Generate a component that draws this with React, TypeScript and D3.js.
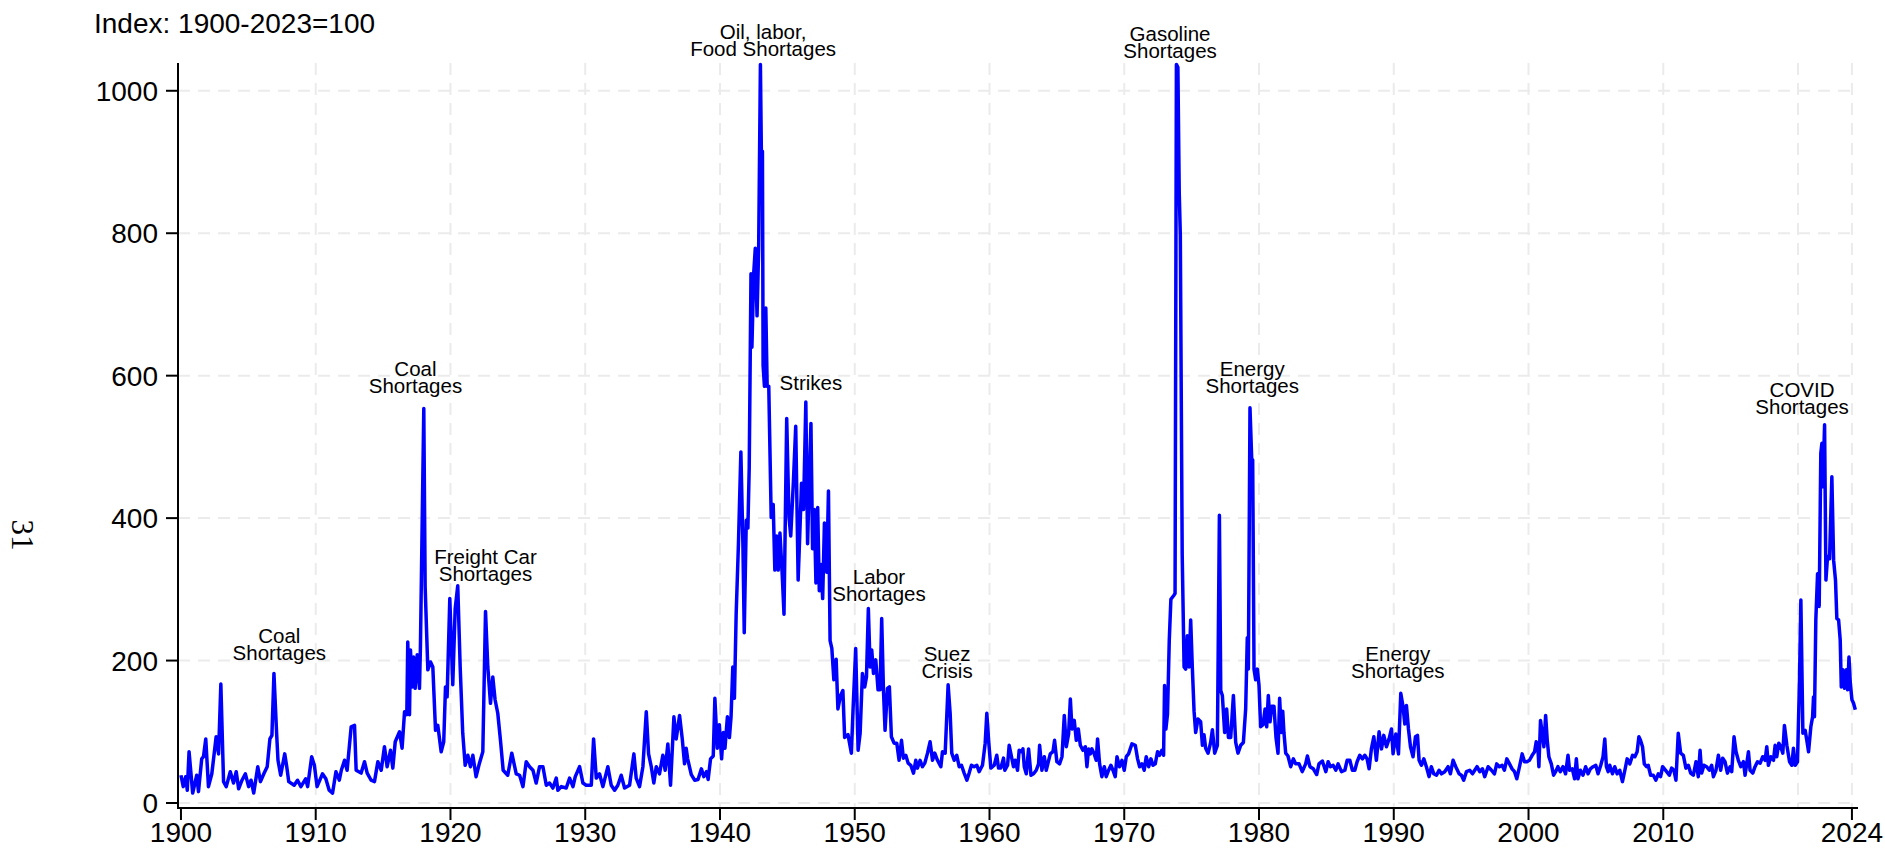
import React, { useRef, useEffect } from 'react';
import * as d3 from 'd3';

// [decimal year, index value], one array per decade
const s1900s: [number, number][] = [
  [1900.0, 39], [1900.17, 23], [1900.35, 37], [1900.47, 18], [1900.6, 72], [1900.87, 14],
  [1901.17, 39], [1901.3, 16], [1901.54, 62], [1901.67, 65], [1901.84, 90], [1902.04, 23],
  [1902.29, 41], [1902.61, 93], [1902.79, 69], [1902.96, 167], [1903.16, 30], [1903.36, 23],
  [1903.66, 44], [1903.9, 28], [1904.1, 44], [1904.28, 20], [1904.53, 32], [1904.78, 41],
  [1905.02, 23], [1905.2, 32], [1905.4, 14], [1905.7, 51], [1905.9, 30], [1906.15, 41],
  [1906.4, 51], [1906.6, 90], [1906.75, 95], [1906.9, 182], [1907.1, 97], [1907.2, 60],
  [1907.4, 39], [1907.7, 69], [1907.85, 51], [1908.0, 30], [1908.4, 25], [1908.65, 32],
  [1908.9, 23], [1909.25, 34], [1909.4, 23], [1909.7, 65], [1909.9, 53],
];
const s1910s: [number, number][] = [
  [1910.1, 23], [1910.5, 41], [1910.75, 34], [1911.0, 18], [1911.25, 14], [1911.5, 44],
  [1911.75, 32], [1911.9, 46], [1912.14, 60], [1912.33, 46], [1912.63, 107], [1912.88, 109],
  [1913.0, 46], [1913.37, 42], [1913.62, 58], [1913.82, 42], [1914.11, 32], [1914.36, 30],
  [1914.61, 58], [1914.86, 46], [1915.1, 79], [1915.3, 51], [1915.55, 74], [1915.72, 49],
  [1915.9, 86], [1916.22, 100], [1916.41, 77], [1916.59, 128], [1916.76, 124], [1916.83, 226],
  [1916.96, 124], [1917.03, 215], [1917.16, 163], [1917.26, 205], [1917.38, 161], [1917.53, 208],
  [1917.7, 161], [1917.77, 219], [1918.02, 554], [1918.12, 304], [1918.32, 187], [1918.52, 198],
  [1918.69, 191], [1918.89, 102], [1919.06, 109], [1919.31, 72], [1919.5, 86], [1919.63, 163],
  [1919.75, 149], [1919.95, 287],
];
const s1920s: [number, number][] = [
  [1920.17, 166], [1920.35, 273], [1920.54, 305], [1920.72, 191], [1920.91, 98], [1921.09, 53],
  [1921.29, 67], [1921.48, 51], [1921.66, 67], [1921.9, 37], [1922.15, 56], [1922.4, 72],
  [1922.6, 269], [1922.77, 191], [1922.97, 140], [1923.14, 177], [1923.31, 145], [1923.51, 126],
  [1923.71, 88], [1923.91, 46], [1924.25, 39], [1924.55, 70], [1924.88, 41], [1925.13, 39],
  [1925.38, 23], [1925.62, 58], [1925.87, 51], [1926.12, 46], [1926.36, 28], [1926.61, 51],
  [1926.86, 51], [1927.11, 25], [1927.35, 28], [1927.6, 21], [1927.85, 35], [1927.97, 18],
  [1928.22, 23], [1928.59, 21], [1928.84, 35], [1929.09, 23], [1929.26, 37], [1929.58, 51],
  [1929.83, 28],
];
const s1930s: [number, number][] = [
  [1930.07, 25], [1930.45, 25], [1930.62, 90], [1930.82, 35], [1931.06, 41], [1931.31, 23],
  [1931.68, 51], [1931.93, 25], [1932.18, 18], [1932.42, 25], [1932.67, 39], [1932.92, 21],
  [1933.29, 25], [1933.61, 69], [1933.78, 35], [1934.03, 23], [1934.28, 51], [1934.53, 128],
  [1934.7, 69], [1934.9, 51], [1935.09, 28], [1935.27, 51], [1935.51, 41], [1935.76, 67],
  [1935.93, 46], [1936.13, 83], [1936.33, 25], [1936.58, 121], [1936.75, 90], [1937.0, 123],
  [1937.2, 90], [1937.37, 55], [1937.49, 77], [1937.6, 62], [1937.87, 40], [1938.12, 32],
  [1938.37, 33], [1938.62, 48], [1938.8, 37], [1939.0, 44], [1939.12, 33], [1939.3, 62],
  [1939.5, 66], [1939.62, 147], [1939.8, 77], [1939.95, 110],
];
const s1940s: [number, number][] = [
  [1940.12, 62], [1940.25, 99], [1940.37, 77], [1940.55, 121], [1940.7, 92], [1940.82, 121],
  [1940.95, 191], [1941.07, 147], [1941.2, 265], [1941.37, 364], [1941.55, 493], [1941.7, 364],
  [1941.8, 239], [1941.95, 397], [1942.07, 386], [1942.17, 471], [1942.3, 743], [1942.37, 640],
  [1942.5, 743], [1942.62, 779], [1942.75, 684], [1942.87, 779], [1943.0, 1037], [1943.07, 915],
  [1943.15, 915], [1943.2, 614], [1943.3, 585], [1943.4, 695], [1943.5, 585], [1943.62, 585],
  [1943.8, 401], [1943.95, 419], [1944.07, 327], [1944.2, 375], [1944.32, 327], [1944.45, 379],
  [1944.62, 320], [1944.75, 265], [1944.95, 540], [1945.12, 401], [1945.25, 375], [1945.45, 452],
  [1945.62, 529], [1945.8, 313], [1945.95, 393], [1946.05, 449], [1946.2, 412], [1946.37, 563],
  [1946.5, 364], [1946.62, 449], [1946.75, 533], [1946.87, 357], [1947.0, 412], [1947.12, 309],
  [1947.25, 415], [1947.37, 298], [1947.5, 335], [1947.62, 287], [1947.75, 393], [1947.92, 324],
  [1948.05, 438], [1948.17, 228], [1948.3, 217], [1948.45, 173], [1948.62, 202], [1948.75, 132],
  [1948.95, 151], [1949.12, 158], [1949.25, 92], [1949.5, 96], [1949.75, 70], [1949.87, 129],
];
const s1950s: [number, number][] = [
  [1950.07, 217], [1950.25, 74], [1950.4, 98], [1950.57, 182], [1950.74, 163], [1950.87, 177],
  [1951.01, 273], [1951.14, 191], [1951.26, 215], [1951.39, 182], [1951.56, 201], [1951.73, 159],
  [1951.88, 159], [1952.0, 259], [1952.13, 159], [1952.25, 102], [1952.43, 161], [1952.57, 163],
  [1952.72, 93], [1952.92, 84], [1953.12, 84], [1953.29, 60], [1953.47, 88], [1953.61, 63],
  [1953.79, 67], [1953.96, 56], [1954.16, 53], [1954.36, 42], [1954.53, 60], [1954.65, 49],
  [1954.85, 60], [1955.02, 51], [1955.2, 56], [1955.4, 70], [1955.59, 86], [1955.77, 60],
  [1955.94, 70], [1956.14, 60], [1956.39, 51], [1956.51, 72], [1956.71, 70], [1956.93, 166],
  [1957.08, 126], [1957.2, 70], [1957.38, 60], [1957.57, 67], [1957.75, 51], [1957.92, 53],
  [1958.12, 42], [1958.32, 32], [1958.49, 42], [1958.66, 53], [1958.86, 51], [1959.06, 53],
  [1959.23, 44], [1959.48, 53], [1959.68, 84], [1959.8, 126], [1959.95, 84],
];
const s1960s: [number, number][] = [
  [1960.1, 49], [1960.35, 53], [1960.54, 67], [1960.67, 49], [1960.84, 49], [1961.04, 63],
  [1961.14, 46], [1961.34, 53], [1961.46, 81], [1961.63, 65], [1961.78, 51], [1961.91, 60],
  [1962.08, 46], [1962.2, 74], [1962.38, 72], [1962.48, 76], [1962.58, 51], [1962.73, 41],
  [1962.9, 76], [1963.08, 39], [1963.27, 41], [1963.47, 46], [1963.64, 55], [1963.72, 81],
  [1963.89, 46], [1964.07, 65], [1964.21, 46], [1964.51, 69], [1964.71, 72], [1964.83, 88],
  [1965.0, 58], [1965.2, 55], [1965.38, 65], [1965.55, 123], [1965.7, 79], [1965.87, 97],
  [1966.0, 146], [1966.12, 104], [1966.29, 116], [1966.44, 88], [1966.59, 104], [1966.74, 81],
  [1966.93, 74], [1967.11, 79], [1967.23, 51], [1967.35, 76], [1967.48, 69], [1967.6, 76],
  [1967.77, 69], [1967.92, 60], [1968.02, 90], [1968.17, 55], [1968.34, 37], [1968.52, 51],
  [1968.66, 37], [1968.84, 46], [1969.01, 53], [1969.16, 46], [1969.33, 37], [1969.46, 65],
  [1969.65, 51], [1969.83, 60],
];
const s1970s: [number, number][] = [
  [1970.0, 46], [1970.15, 65], [1970.32, 69], [1970.57, 83], [1970.82, 81], [1970.99, 62],
  [1971.14, 51], [1971.31, 55], [1971.48, 46], [1971.63, 65], [1971.81, 51], [1971.98, 62],
  [1972.13, 53], [1972.3, 55], [1972.47, 72], [1972.62, 67], [1972.79, 74], [1972.92, 67],
  [1972.99, 165], [1973.09, 104], [1973.21, 125], [1973.34, 228], [1973.46, 286], [1973.66, 291],
  [1973.77, 294], [1973.87, 1037], [1973.98, 1033], [1974.08, 857], [1974.16, 798], [1974.3, 349],
  [1974.44, 191], [1974.56, 188], [1974.68, 235], [1974.81, 191], [1974.93, 257], [1975.05, 191],
  [1975.18, 129], [1975.3, 99], [1975.47, 118], [1975.67, 114], [1975.8, 81], [1975.92, 96],
  [1976.04, 77], [1976.22, 70], [1976.41, 85], [1976.54, 103], [1976.71, 70], [1976.91, 81],
  [1977.06, 404], [1977.16, 158], [1977.28, 151], [1977.45, 99], [1977.6, 132], [1977.73, 92],
  [1977.9, 92], [1978.1, 151], [1978.27, 85], [1978.44, 70], [1978.64, 81], [1978.84, 85],
  [1979.01, 132], [1979.13, 232], [1979.21, 188], [1979.33, 555], [1979.46, 482], [1979.53, 482],
  [1979.63, 188], [1979.75, 173], [1979.88, 188],
];
const s1980s: [number, number][] = [
  [1980.0, 165], [1980.12, 107], [1980.3, 110], [1980.45, 132], [1980.57, 107], [1980.69, 151],
  [1980.82, 114], [1980.94, 136], [1981.11, 136], [1981.26, 92], [1981.41, 70], [1981.53, 147],
  [1981.66, 99], [1981.76, 129], [1981.85, 99], [1981.98, 70], [1982.15, 66], [1982.35, 51],
  [1982.55, 62], [1982.72, 55], [1982.97, 55], [1983.21, 44], [1983.46, 55], [1983.59, 66],
  [1983.78, 51], [1984.03, 48], [1984.28, 40], [1984.45, 55], [1984.7, 59], [1984.96, 44],
  [1985.13, 58], [1985.3, 51], [1985.5, 53], [1985.7, 46], [1985.87, 55], [1986.12, 44],
  [1986.37, 46], [1986.54, 60], [1986.74, 60], [1986.93, 46], [1987.11, 46], [1987.28, 58],
  [1987.48, 67], [1987.68, 62], [1987.85, 67], [1988.02, 62], [1988.17, 48], [1988.34, 76],
  [1988.52, 93], [1988.71, 60], [1988.91, 100], [1989.09, 76], [1989.26, 95], [1989.46, 79],
  [1989.65, 90], [1989.83, 104], [1989.95, 69],
];
const s1990s: [number, number][] = [
  [1990.15, 97], [1990.35, 69], [1990.52, 154], [1990.69, 135], [1990.82, 111], [1990.94, 137],
  [1991.09, 104], [1991.24, 79], [1991.43, 65], [1991.61, 93], [1991.76, 95], [1991.88, 60],
  [1992.05, 53], [1992.23, 62], [1992.42, 51], [1992.62, 37], [1992.79, 51], [1992.97, 41],
  [1993.17, 39], [1993.36, 46], [1993.54, 41], [1993.78, 44], [1994.03, 51], [1994.2, 41],
  [1994.4, 60], [1994.6, 51], [1994.85, 41], [1995.02, 39], [1995.19, 32], [1995.39, 44],
  [1995.64, 46], [1995.84, 41], [1996.01, 46], [1996.18, 51], [1996.38, 44], [1996.58, 48],
  [1996.75, 37], [1997.0, 51], [1997.25, 46], [1997.47, 41], [1997.64, 55], [1997.84, 51],
  [1998.04, 53], [1998.21, 46], [1998.39, 62], [1998.59, 55], [1998.78, 48], [1998.96, 44],
  [1999.13, 34], [1999.33, 51], [1999.53, 69], [1999.7, 58], [1999.88, 58],
];
const s2000s: [number, number][] = [
  [2000.07, 60], [2000.27, 67], [2000.45, 72], [2000.57, 86], [2000.69, 79], [2000.77, 51],
  [2000.89, 116], [2001.02, 97], [2001.14, 79], [2001.27, 123], [2001.39, 88], [2001.51, 65],
  [2001.69, 55], [2001.86, 39], [2002.01, 44], [2002.18, 51], [2002.36, 44], [2002.56, 51],
  [2002.75, 41], [2002.93, 67], [2003.05, 46], [2003.25, 48], [2003.42, 34], [2003.55, 62],
  [2003.67, 34], [2003.85, 46], [2004.04, 39], [2004.24, 51], [2004.42, 41], [2004.59, 48],
  [2004.79, 51], [2004.99, 53], [2005.16, 41], [2005.36, 53], [2005.53, 65], [2005.66, 90],
  [2005.78, 51], [2005.91, 44], [2006.03, 53], [2006.23, 41], [2006.4, 51], [2006.58, 41],
  [2006.77, 46], [2006.97, 30], [2007.15, 46], [2007.32, 62], [2007.52, 55], [2007.72, 67],
  [2007.89, 65], [2008.06, 72], [2008.19, 93], [2008.31, 88], [2008.46, 79], [2008.59, 55],
  [2008.76, 51], [2008.88, 53], [2009.06, 39], [2009.26, 39], [2009.45, 32], [2009.63, 41],
  [2009.8, 37], [2009.95, 51],
];
const s2010s: [number, number][] = [
  [2010.25, 44], [2010.45, 39], [2010.62, 49], [2010.79, 46], [2010.94, 32], [2011.11, 98],
  [2011.29, 70], [2011.49, 67], [2011.68, 49], [2011.86, 53], [2012.03, 42], [2012.23, 39],
  [2012.43, 58], [2012.6, 37], [2012.73, 74], [2012.85, 42], [2013.02, 53], [2013.22, 51],
  [2013.42, 46], [2013.59, 53], [2013.72, 37], [2013.91, 46], [2014.09, 67], [2014.26, 46],
  [2014.41, 63], [2014.58, 58], [2014.76, 42], [2014.96, 51], [2015.08, 44], [2015.25, 93],
  [2015.4, 72], [2015.57, 60], [2015.75, 51], [2015.95, 58], [2016.07, 39], [2016.32, 72],
  [2016.44, 46], [2016.64, 42], [2016.81, 51], [2016.99, 58], [2017.19, 56], [2017.38, 65],
  [2017.56, 60], [2017.68, 79], [2017.8, 53], [2017.98, 65], [2018.18, 60], [2018.3, 81],
  [2018.42, 65], [2018.57, 84], [2018.72, 79], [2018.87, 70], [2018.99, 109], [2019.17, 81],
  [2019.37, 58], [2019.54, 53], [2019.66, 77], [2019.79, 53], [2019.96, 58],
];
const s2020s: [number, number][] = [
  [2020.11, 173], [2020.21, 285], [2020.36, 98], [2020.53, 102], [2020.65, 88], [2020.78, 72],
  [2020.95, 107], [2021.08, 121], [2021.15, 149], [2021.22, 121], [2021.32, 257], [2021.45, 322],
  [2021.57, 276], [2021.69, 491], [2021.77, 505], [2021.84, 444], [2021.97, 531], [2022.07, 313],
  [2022.19, 346], [2022.34, 343], [2022.51, 458], [2022.64, 341], [2022.78, 313], [2022.88, 259],
  [2023.01, 257], [2023.13, 229], [2023.21, 163], [2023.33, 187], [2023.45, 161], [2023.58, 187],
  [2023.68, 159], [2023.78, 205], [2023.88, 168], [2024.0, 145], [2024.12, 140], [2024.25, 131],
];

const yTicks = [0, 200, 400, 600, 800, 1000];
const xTicks = [1900, 1910, 1920, 1930, 1940, 1950, 1960, 1970, 1980, 1990, 2000, 2010, 2024];
const xGrid = [1910, 1920, 1930, 1940, 1950, 1960, 1970, 1980, 1990, 2000, 2010, 2020, 2024];
const tickLabels = ['1900', '1910', '1920', '1930', '1940', '1950', '1960', '1970', '1980', '1990', '2000', '2010', '2024'];

// event labels: year (centre), value (first-line baseline), text lines
const notes: { year: number; value: number; lines: string[] }[] = [
  { year: 1907.3, value: 225, lines: ['Coal', 'Shortages'] },
  { year: 1917.4, value: 600, lines: ['Coal', 'Shortages'] },
  { year: 1922.6, value: 335, lines: ['Freight Car', 'Shortages'] },
  { year: 1943.2, value: 1072, lines: ['Oil, labor,', 'Food Shortages'] },
  { year: 1946.75, value: 580, lines: ['Strikes'] },
  { year: 1951.8, value: 307, lines: ['Labor', 'Shortages'] },
  { year: 1956.85, value: 200, lines: ['Suez', 'Crisis'] },
  { year: 1973.4, value: 1070, lines: ['Gasoline', 'Shortages'] },
  { year: 1979.5, value: 600, lines: ['Energy', 'Shortages'] },
  { year: 1990.3, value: 200, lines: ['Energy', 'Shortages'] },
  { year: 2020.3, value: 570, lines: ['COVID', 'Shortages'] },
];

const FONT = '"Liberation Sans", Arial, sans-serif';

const Chart = () => {
  const ref = useRef<SVGSVGElement | null>(null);

  useEffect(() => {
    document.body.style.margin = '0';
    const width = 1885;
    const height = 851;
    const series = [...s1900s, ...s1910s, ...s1920s, ...s1930s, ...s1940s, ...s1950s, ...s1960s,
      ...s1970s, ...s1980s, ...s1990s, ...s2000s, ...s2010s, ...s2020s];

    const svg = d3.select(ref.current);
    svg.selectAll('*').remove();
    svg.attr('width', width).attr('height', height);

    const x = d3.scaleLinear().domain([1899.78, 2024.45]).range([178, 1858]);
    const y = d3.scaleLinear().domain([-7, 1039]).range([808, 63]);

    const grid = svg.append('g')
      .attr('stroke', '#ebebeb')
      .attr('stroke-width', 2)
      .attr('stroke-dasharray', '12,8');
    grid.selectAll('.h').data(yTicks).join('line')
      .attr('x1', x(1899.78)).attr('x2', x(2024.45))
      .attr('y1', (d) => y(d)).attr('y2', (d) => y(d));
    grid.selectAll('.v').data(xGrid).join('line')
      .attr('x1', (d) => x(d)).attr('x2', (d) => x(d))
      .attr('y1', y(1039)).attr('y2', y(-7));

    // axes
    const axes = svg.append('g').attr('stroke', '#000').attr('stroke-width', 2);
    axes.append('line').attr('x1', x(1899.78)).attr('x2', x(1899.78)).attr('y1', y(1039)).attr('y2', y(-7) + 1);
    axes.append('line').attr('x1', x(1899.78) - 1).attr('x2', x(2024.45)).attr('y1', y(-7)).attr('y2', y(-7));
    axes.selectAll('.yt').data(yTicks).join('line')
      .attr('x1', x(1899.78) - 12).attr('x2', x(1899.78))
      .attr('y1', (d) => y(d)).attr('y2', (d) => y(d));
    axes.selectAll('.xt').data(xTicks).join('line')
      .attr('x1', (d) => x(d)).attr('x2', (d) => x(d))
      .attr('y1', y(-7)).attr('y2', y(-7) + 12);

    svg.append('g').selectAll('text').data(yTicks).join('text')
      .attr('x', x(1899.78) - 20).attr('y', (d) => y(d) + 10)
      .attr('text-anchor', 'end')
      .attr('font-family', FONT).attr('font-size', 28)
      .text((d) => d);

    svg.append('g').selectAll('text').data(xTicks).join('text')
      .attr('x', (d) => x(d)).attr('y', 842)
      .attr('text-anchor', 'middle')
      .attr('font-family', FONT).attr('font-size', 28)
      .text((d, i) => tickLabels[i]);

    svg.append('text')
      .attr('x', 94).attr('y', 33)
      .attr('font-family', FONT).attr('font-size', 28)
      .text('Index: 1900-2023=100');

    svg.append('text')
      .attr('transform', 'translate(12, 535) rotate(90)')
      .attr('text-anchor', 'middle')
      .attr('font-family', '"Liberation Serif", "DejaVu Serif", serif').attr('font-size', 31)
      .text('31');

    svg.append('path')
      .datum(series)
      .attr('fill', 'none')
      .attr('stroke', '#0000ff')
      .attr('stroke-width', 3.5)
      .attr('stroke-linejoin', 'round')
      .attr('d', d3.line<[number, number]>().x((d) => x(d[0])).y((d) => y(d[1])));

    const lab = svg.append('g')
      .attr('font-family', FONT).attr('font-size', 20.5)
      .attr('text-anchor', 'middle').attr('fill', '#000');
    notes.forEach((n) => {
      const t = lab.append('text').attr('y', y(n.value));
      n.lines.forEach((s, i) => {
        t.append('tspan')
          .attr('x', x(n.year))
          .attr('dy', i === 0 ? 0 : 17)
          .text(s);
      });
    });
  }, []);

  return <svg ref={ref} style={{ display: 'block' }}></svg>;
};

export default function App() {
  return <Chart />;
}
